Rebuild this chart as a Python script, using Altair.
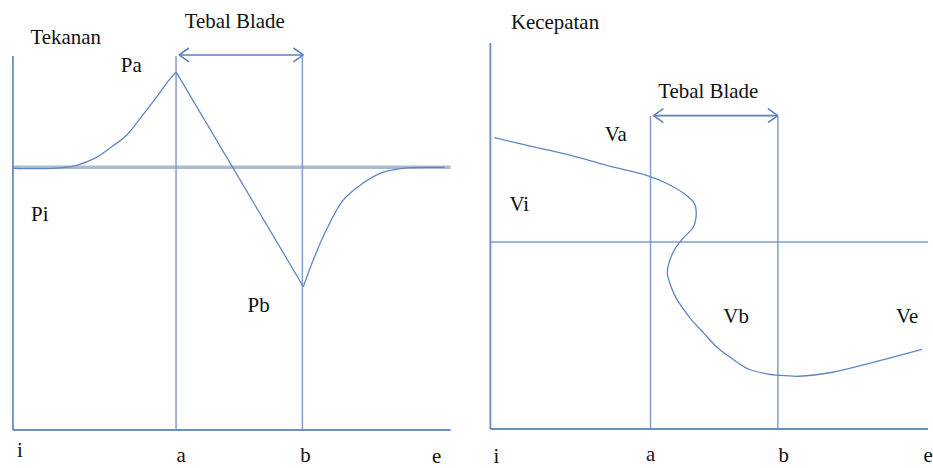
import altair as alt
import pandas as pd

# ---------------- Pressure diagram (left panel) ----------------
# stations along the flow path: inlet i, blade leading edge a, trailing edge b, exit e
P_STATIONS = ["i", "a", "b", "e"]
P_STATION_X = [13, 177, 304, 453]
P_AXIS_TOP = 376
P_INLET_LEVEL = 264          # Pi
P_SPAN_LEVEL = 377           # level of the "Tebal Blade" dimension arrow
P_SPAN_X = [180, 305]

# pressure along the path, in three pieces:
# rise to Pa at a, straight drop to Pb at b, recovery back to Pi
P_CURVE_X = [13, 53, 77, 97, 110, 127, 143, 157, 167, 177,
             177, 305,
             305, 315, 328, 345, 362, 382, 405, 435, 447]
P_CURVE_Y = [263, 263, 266, 274, 283, 296, 316, 334, 348, 360,
             360, 144,
             144, 171, 201, 231, 246, 258, 263, 264, 264]
P_CURVE_PART = [0] * 10 + [1] * 2 + [2] * 9

P_LABELS = ["Tekanan", "Tebal Blade", "Pa", "Pi", "Pb", "i", "a", "b", "e"]
P_LABEL_X = [66, 236, 132, 40, 260, 20, 182, 307, 439]
P_LABEL_Y = [394, 410, 366, 216, 125, -21, -26, -26, -27]

# ---------------- Velocity diagram (right panel) ----------------
V_STATIONS = ["i", "a", "b", "e"]
V_STATION_X = [27, 188, 316, 467]
V_AXIS_TOP = 388
V_INLET_LEVEL = 188          # Vi
V_STATION_TOP = 315
V_SPAN_LEVEL = 315
V_SPAN_X = [191, 316]

V_CURVE_X = [31, 64, 104, 144, 184, 204, 224, 232, 234, 231, 221, 212, 206, 205, 208,
             213, 220, 229, 241, 254, 271, 287, 307, 316, 337, 371, 404, 461]
V_CURVE_Y = [293, 285, 276, 265, 255, 247, 235, 227, 218, 203, 192, 180, 165, 156, 145,
             133, 122, 110, 97, 83, 70, 60, 55, 54, 53, 57, 65, 80]
V_CURVE_PART = [0] * len(V_CURVE_X)

V_LABELS = ["Kecepatan", "Tebal Blade", "Va", "Vi", "Vb", "Ve", "i", "a", "b", "e"]
V_LABEL_X = [92, 246, 153, 56, 274, 446, 33, 188, 322, 467]
V_LABEL_Y = [408, 339, 295, 225, 113, 113, -28, -26, -27, -27]

AXIS_COLOR = "#5b82bd"
LINE_COLOR = "#7495c6"
CURVE_COLOR = "#5f86bf"
FONT = "Liberation Serif"

LEFT_HEAD = "M0,0L2,-1.4M0,0L2,1.4"
RIGHT_HEAD = "M0,0L-2,-1.4M0,0L-2,1.4"


def panel(width, height, xdom, ydom, stations_x, axis_top, station_top,
          ref_level, ref_color, ref_width, span_level, span_x,
          curve_x, curve_y, curve_part, labels, lab_x, lab_y):
    xs = alt.Scale(domain=xdom, nice=False, zero=False)
    ys = alt.Scale(domain=ydom, nice=False, zero=False)
    X = lambda f: alt.X(f, type="quantitative", scale=xs, axis=None)
    Y = lambda f: alt.Y(f, type="quantitative", scale=ys, axis=None)

    x0, x_end = stations_x[0], stations_x[-1]

    axes_v = alt.Chart(pd.DataFrame({"x": [x0], "y": [0], "y2": [axis_top]})).mark_rule(
        color=AXIS_COLOR, strokeWidth=2, opacity=0.85
    ).encode(x=X("x"), y=Y("y"), y2="y2")
    axes_h = alt.Chart(pd.DataFrame({"x": [x0], "x2": [x_end], "y": [0]})).mark_rule(
        color=AXIS_COLOR, strokeWidth=2, opacity=0.9
    ).encode(x=X("x"), x2="x2", y=Y("y"))

    ref = alt.Chart(pd.DataFrame({"x": [x0], "x2": [x_end], "y": [ref_level]})).mark_rule(
        color=ref_color, strokeWidth=ref_width
    ).encode(x=X("x"), x2="x2", y=Y("y"))

    blade = alt.Chart(pd.DataFrame({"x": stations_x[1:3], "y": [0, 0], "y2": [station_top, station_top]})).mark_rule(
        color=LINE_COLOR, strokeWidth=1.5, opacity=0.9
    ).encode(x=X("x"), y=Y("y"), y2="y2")

    span = alt.Chart(pd.DataFrame({"x": [span_x[0]], "x2": [span_x[1]], "y": [span_level]})).mark_rule(
        color=AXIS_COLOR, strokeWidth=1.6
    ).encode(x=X("x"), x2="x2", y=Y("y"))
    head_l = alt.Chart(pd.DataFrame({"x": [span_x[0]], "y": [span_level]})).mark_point(
        shape=LEFT_HEAD, size=100, filled=False, color=AXIS_COLOR, strokeWidth=1.6, opacity=1
    ).encode(x=X("x"), y=Y("y"))
    head_r = alt.Chart(pd.DataFrame({"x": [span_x[1]], "y": [span_level]})).mark_point(
        shape=RIGHT_HEAD, size=100, filled=False, color=AXIS_COLOR, strokeWidth=1.6, opacity=1
    ).encode(x=X("x"), y=Y("y"))

    curve_df = pd.DataFrame({"x": curve_x, "y": curve_y, "part": curve_part,
                             "k": range(len(curve_x))})
    curve = alt.Chart(curve_df).mark_line(
        color=CURVE_COLOR, strokeWidth=1.3, interpolate="catmull-rom"
    ).encode(x=X("x"), y=Y("y"), detail="part:N", order="k:Q")

    text = alt.Chart(pd.DataFrame({"t": labels, "x": lab_x, "y": lab_y})).mark_text(
        font=FONT, fontSize=21, color="#111111",
        align="center", baseline="middle"
    ).encode(x=X("x"), y=Y("y"), text="t:N")

    return alt.layer(ref, axes_v, axes_h, blade, span, head_l, head_r, curve, text).properties(
        width=width, height=height
    )


left = panel(466, 468, [0, 466], [-37, 431], P_STATION_X, P_AXIS_TOP, P_AXIS_TOP,
             P_INLET_LEVEL, "#a9bad2", 3.5, P_SPAN_LEVEL, P_SPAN_X,
             P_CURVE_X, P_CURVE_Y, P_CURVE_PART, P_LABELS, P_LABEL_X, P_LABEL_Y)

right = panel(467, 468, [0, 467], [-38, 430], V_STATION_X, V_AXIS_TOP, V_STATION_TOP,
              V_INLET_LEVEL, "#7f9ecb", 1.5, V_SPAN_LEVEL, V_SPAN_X,
              V_CURVE_X, V_CURVE_Y, V_CURVE_PART, V_LABELS, V_LABEL_X, V_LABEL_Y)

chart = alt.hconcat(left, right, spacing=0).properties(
    padding=0,
    background="white",
).configure_view(stroke=None)

chart.save("out.html", embed_options={"renderer": "svg", "actions": False})
